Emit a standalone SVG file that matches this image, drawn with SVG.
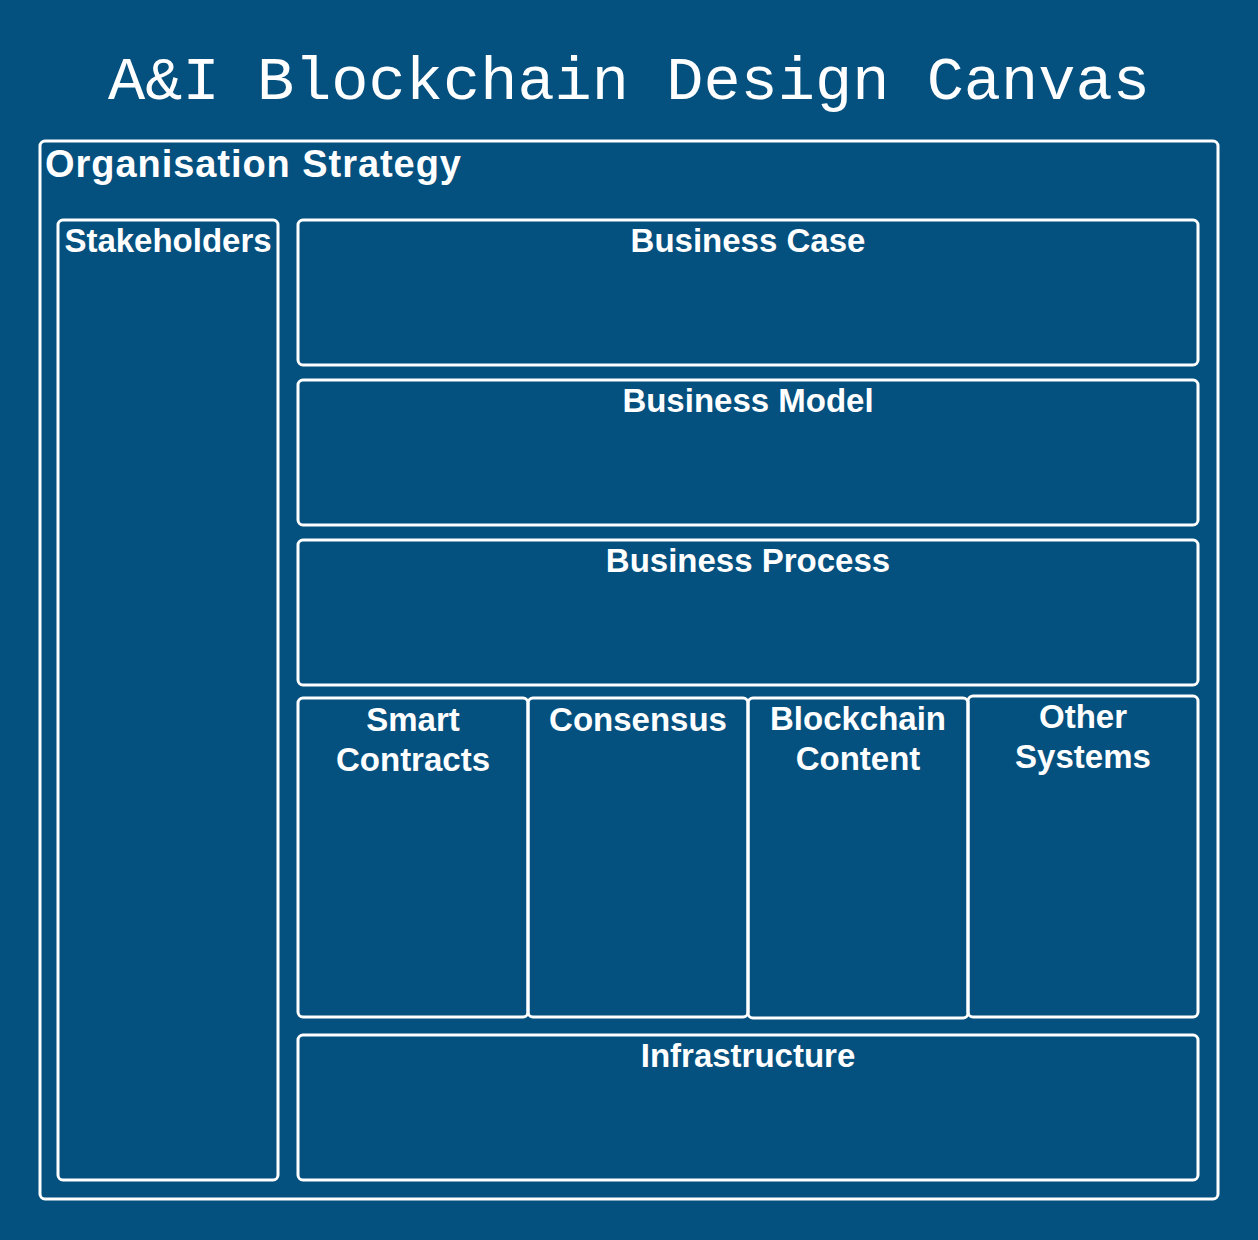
<svg xmlns="http://www.w3.org/2000/svg" width="1258" height="1240" viewBox="0 0 1258 1240">
<style>
.box{fill:none;stroke:#ffffff;stroke-width:3}
.lbl{fill:#ffffff;font-family:"Liberation Sans",Arial,sans-serif;font-weight:bold;font-size:33px;text-anchor:middle}
.title{fill:#ffffff;font-family:"Liberation Mono","Courier New",monospace;font-size:62px;text-anchor:middle}
</style>
<rect width="1258" height="1240" fill="#04507F"/>
<text class="title" x="629" y="99">A&amp;I Blockchain Design Canvas</text>
<g id="organisation-strategy">
<rect class="box" x="40" y="141" width="1178" height="1058" rx="5"/>
<text class="lbl" x="45" y="177" style="text-anchor:start;font-size:38px" textLength="416" lengthAdjust="spacing">Organisation Strategy</text>
</g>
<g id="stakeholders">
<rect class="box" x="58" y="220" width="220" height="960" rx="5"/>
<text class="lbl" x="168" y="252">Stakeholders</text>
</g>
<g id="business-case">
<rect class="box" x="298" y="220" width="900" height="145" rx="5"/>
<text class="lbl" x="748" y="252">Business Case</text>
</g>
<g id="business-model">
<rect class="box" x="298" y="380" width="900" height="145" rx="5"/>
<text class="lbl" x="748" y="412">Business Model</text>
</g>
<g id="business-process">
<rect class="box" x="298" y="540" width="900" height="145" rx="5"/>
<text class="lbl" x="748" y="572">Business Process</text>
</g>
<g id="smart-contracts">
<rect class="box" x="298" y="698" width="230" height="319" rx="5"/>
<text class="lbl" x="413" y="731">Smart</text>
<text class="lbl" x="413" y="771">Contracts</text>
</g>
<g id="consensus">
<rect class="box" x="528" y="698" width="220" height="319" rx="5"/>
<text class="lbl" x="638" y="731">Consensus</text>
</g>
<g id="blockchain-content">
<rect class="box" x="748" y="698" width="220" height="320" rx="5"/>
<text class="lbl" x="858" y="730">Blockchain</text>
<text class="lbl" x="858" y="770">Content</text>
</g>
<g id="other-systems">
<rect class="box" x="968" y="696" width="230" height="321" rx="5"/>
<text class="lbl" x="1083" y="728">Other</text>
<text class="lbl" x="1083" y="768">Systems</text>
</g>
<g id="infrastructure">
<rect class="box" x="298" y="1035" width="900" height="145" rx="5"/>
<text class="lbl" x="748" y="1067">Infrastructure</text>
</g>
<g id="connectors"></g>
</svg>
